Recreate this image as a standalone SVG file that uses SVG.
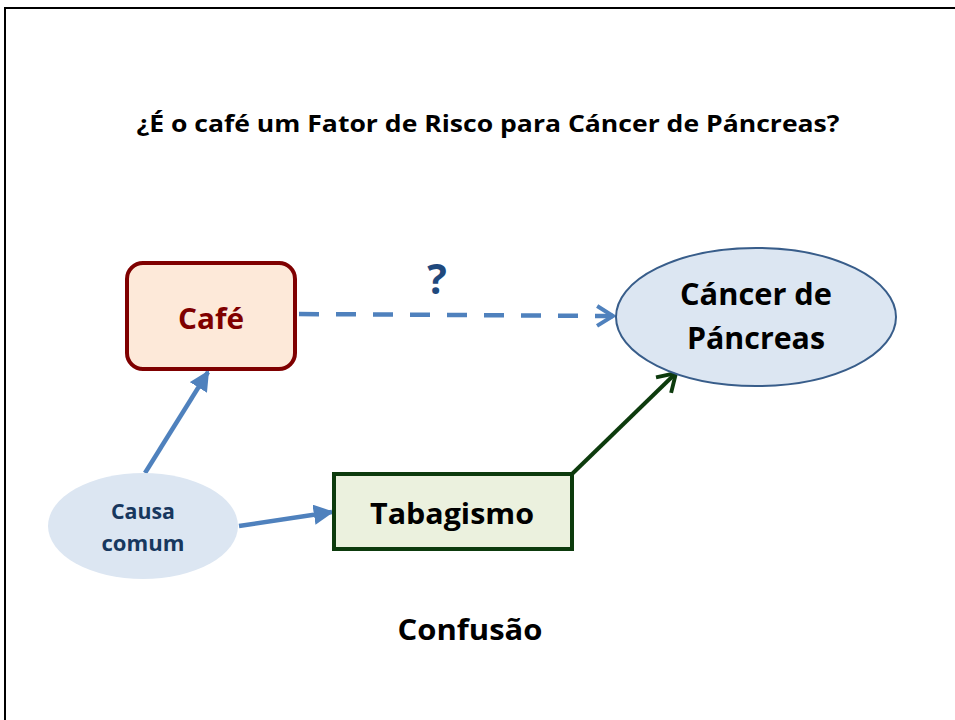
<svg xmlns="http://www.w3.org/2000/svg" width="955" height="720" viewBox="0 0 955 720">
<defs>
<style>
text{font-family:"Open Sans","Noto Sans","Liberation Sans",sans-serif;font-weight:bold;text-anchor:middle}
.blue{stroke:#4F81BD;stroke-width:4.5;fill:none}
</style>
<marker id="tri" viewBox="0 0 10 10" refX="9" refY="5" markerWidth="4.5" markerHeight="4.5" markerUnits="strokeWidth" orient="auto">
<path d="M0,0 L10,5 L0,10 Z" fill="#4F81BD"/>
</marker>
<marker id="chevB" viewBox="0 0 12 12" refX="10" refY="6" markerWidth="5.3" markerHeight="5.3" markerUnits="strokeWidth" orient="auto">
<path d="M2,1 L10,6 L2,11" fill="none" stroke="#4F81BD" stroke-width="2"/>
</marker>
<marker id="chevG" viewBox="0 0 12 12" refX="10" refY="6" markerWidth="6.5" markerHeight="6.5" markerUnits="strokeWidth" orient="auto">
<path d="M2,1 L10,6 L2,11" fill="none" stroke="#0D3B0D" stroke-width="1.8"/>
</marker>
</defs>
<rect x="0" y="0" width="955" height="720" fill="#fff"/>
<path d="M5,720 V8 H955" fill="none" stroke="#000" stroke-width="2"/>
<text x="488" y="132" font-size="23" fill="#000" textLength="703" lengthAdjust="spacingAndGlyphs">¿É o café um Fator de Risco para Cáncer de Páncreas?</text>
<g id="connectors">
<line class="blue" x1="299" y1="314" x2="613" y2="316" stroke-dasharray="20,17" marker-end="url(#chevB)"/>
<line class="blue" x1="145" y1="473" x2="208" y2="372" stroke-width="4" marker-end="url(#tri)"/>
<line class="blue" x1="239" y1="526" x2="332" y2="512" stroke-width="4" marker-end="url(#tri)"/>
<line x1="572" y1="474" x2="676" y2="373" stroke="#0D3B0D" stroke-width="4" marker-end="url(#chevG)"/>
</g>
<text x="437" y="294" font-size="41" fill="#1F497D">?</text>
<g id="cafe">
<rect x="127" y="263" width="168" height="106" rx="16" fill="#FDE9D9" stroke="#7F0000" stroke-width="4"/>
<text x="211" y="329" font-size="29" fill="#7F0000" textLength="66" lengthAdjust="spacingAndGlyphs">Café</text>
</g>
<g id="cancer">
<ellipse cx="756" cy="317" rx="140" ry="69" fill="#DCE6F2" stroke="#385D8A" stroke-width="2"/>
<text x="756" y="305" font-size="31" fill="#000" textLength="152" lengthAdjust="spacingAndGlyphs">Cáncer de</text>
<text x="756" y="349" font-size="31" fill="#000" textLength="138" lengthAdjust="spacingAndGlyphs">Páncreas</text>
</g>
<g id="causa">
<ellipse cx="143" cy="526" rx="95" ry="53" fill="#DCE6F2"/>
<text x="143" y="519" font-size="21" fill="#17375E" textLength="64" lengthAdjust="spacingAndGlyphs">Causa</text>
<text x="143" y="551" font-size="21" fill="#17375E" textLength="83" lengthAdjust="spacingAndGlyphs">comum</text>
</g>
<g id="tabagismo">
<rect x="334" y="474" width="238" height="75" fill="#EBF1DE" stroke="#0D3B0D" stroke-width="4"/>
<text x="452" y="524" font-size="29" fill="#000" textLength="164" lengthAdjust="spacingAndGlyphs">Tabagismo</text>
</g>
<text x="470" y="640" font-size="29" fill="#000" textLength="145" lengthAdjust="spacingAndGlyphs">Confusão</text>
</svg>
